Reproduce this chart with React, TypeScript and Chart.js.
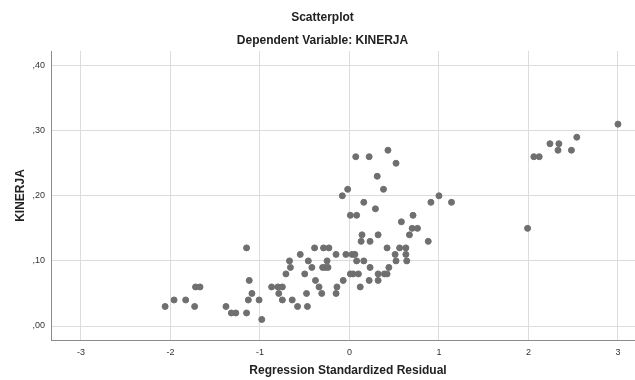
import React, { useEffect, useRef } from "react";
import { Chart, registerables } from "chart.js";

Chart.register(...registerables);

// Regression standardized residual (x) and KINERJA (y)
const residual = [
  -0.98,
  -1.32, -1.27, -1.15,
  -2.06, -1.73, -1.38, -0.58, -0.47,
  -1.96, -1.83, -1.13, -1.01, -0.75, -0.64,
  -1.09, -0.79, -0.48, -0.31, -0.15,
  -1.72, -1.67, -0.87, -0.80, -0.75, -0.34, -0.14, 0.12,
  -1.12, -0.38, -0.07, 0.22, 0.32,
  -0.71, -0.50, 0.01, 0.04, 0.10, 0.32, 0.39, 0.42,
  -0.66, -0.42, -0.30, -0.27, -0.24, 0.23, 0.44,
  -0.67, -0.46, -0.25, 0.08, 0.16, 0.52, 0.64,
  -0.55, -0.15, -0.04, 0.03, 0.06, 0.51, 0.63,
  -1.15, -0.39, -0.29, -0.23, 0.42, 0.56, 0.63,
  0.13, 0.23, 0.88,
  0.14, 0.32, 0.67,
  0.70, 0.76, 1.99,
  0.58,
  0.01, 0.08, 0.71,
  0.29,
  0.16, 0.91, 1.14,
  -0.08, 1.00,
  -0.02, 0.38,
  0.31,
  0.52,
  0.07, 0.22, 2.06, 2.12,
  0.43, 2.33, 2.48,
  2.24, 2.34,
  2.54,
  3.00,
];

const kinerja = [
  0.01,
  0.02, 0.02, 0.02,
  0.03, 0.03, 0.03, 0.03, 0.03,
  0.04, 0.04, 0.04, 0.04, 0.04, 0.04,
  0.05, 0.05, 0.05, 0.05, 0.05,
  0.06, 0.06, 0.06, 0.06, 0.06, 0.06, 0.06, 0.06,
  0.07, 0.07, 0.07, 0.07, 0.07,
  0.08, 0.08, 0.08, 0.08, 0.08, 0.08, 0.08, 0.08,
  0.09, 0.09, 0.09, 0.09, 0.09, 0.09, 0.09,
  0.10, 0.10, 0.10, 0.10, 0.10, 0.10, 0.10,
  0.11, 0.11, 0.11, 0.11, 0.11, 0.11, 0.11,
  0.12, 0.12, 0.12, 0.12, 0.12, 0.12, 0.12,
  0.13, 0.13, 0.13,
  0.14, 0.14, 0.14,
  0.15, 0.15, 0.15,
  0.16,
  0.17, 0.17, 0.17,
  0.18,
  0.19, 0.19, 0.19,
  0.20, 0.20,
  0.21, 0.21,
  0.23,
  0.25,
  0.26, 0.26, 0.26, 0.26,
  0.27, 0.27, 0.27,
  0.28, 0.28,
  0.29,
  0.31,
];

const xTickValues = [-3, -2, -1, 0, 1, 2, 3];
const xTickLabels = ["-3", "-2", "-1", "0", "1", "2", "3"];
const yTickValues = [0, 0.1, 0.2, 0.3, 0.4];
const yTickLabels = [",00", ",10", ",20", ",30", ",40"];

const FAMILY = "'Liberation Sans', Arial, sans-serif";

function lookup(values: number[], labels: string[], v: number): string {
  const i = values.findIndex((t) => Math.abs(t - v) < 1e-9);
  return i >= 0 ? labels[i] : "";
}

export default function App() {
  const ref = useRef<HTMLCanvasElement | null>(null);

  useEffect(() => {
    if (!ref.current) return;
    const points = residual.map((x, i) => ({ x, y: kinerja[i] }));
    const chart = new Chart(ref.current, {
      type: "scatter",
      data: {
        datasets: [
          {
            data: points,
            backgroundColor: "#6f6f6f",
            borderColor: "#6f6f6f",
            borderWidth: 1,
            pointRadius: 3,
          },
        ],
      },
      options: {
        animation: false,
        responsive: false,
        layout: { padding: { left: 0, right: 10, top: 0, bottom: 0 } },
        plugins: {
          legend: { display: false },
          tooltip: { enabled: false },
          title: {
            display: true,
            text: "Scatterplot",
            color: "#222",
            font: { family: FAMILY, size: 12, weight: "bold" },
            padding: { top: 10, bottom: 9.4 },
          },
          subtitle: {
            display: true,
            text: "Dependent Variable: KINERJA",
            color: "#222",
            font: { family: FAMILY, size: 12, weight: "bold" },
            padding: { top: 0, bottom: 2.8 },
          },
        },
        scales: {
          x: {
            type: "linear",
            min: -3.335,
            max: 3.302,
            afterBuildTicks: (s: any) => {
              s.ticks = xTickValues.map((v) => ({ value: v }));
            },
            afterFit: (s: any) => {
              s.height = 40;
            },
            grid: { color: "#dcdcdc", drawTicks: false },
            border: { color: "#8a8a8a" },
            ticks: {
              padding: 7,
              maxRotation: 0,
              autoSkip: false,
              color: "#333",
              font: { family: FAMILY, size: 9 },
              callback: (v: any) => lookup(xTickValues, xTickLabels, Number(v)),
            },
            title: {
              display: true,
              text: "Regression Standardized Residual",
              color: "#222",
              font: { family: FAMILY, size: 12, weight: "bold" },
              padding: { top: 0, bottom: 2 },
            },
          },
          y: {
            type: "linear",
            min: -0.0215,
            max: 0.4224,
            afterBuildTicks: (s: any) => {
              s.ticks = yTickValues.map((v) => ({ value: v }));
            },
            afterFit: (s: any) => {
              s.width = 51;
            },
            grid: { color: "#dcdcdc", drawTicks: false },
            border: { color: "#8a8a8a" },
            ticks: {
              padding: 6,
              autoSkip: false,
              color: "#333",
              font: { family: FAMILY, size: 9 },
              callback: (v: any) => lookup(yTickValues, yTickLabels, Number(v)),
            },
            title: {
              display: true,
              text: "KINERJA",
              color: "#222",
              font: { family: FAMILY, size: 12, weight: "bold" },
              padding: { top: 13, bottom: 0 },
            },
          },
        },
      },
    });
    return () => chart.destroy();
  }, []);

  return (
    <div
      style={{
        position: "fixed",
        left: 0,
        top: 0,
        width: 635,
        height: 380,
        overflow: "hidden",
        background: "#fff",
      }}
    >
      <canvas ref={ref} width={655} height={380} style={{ display: "block" }} />
    </div>
  );
}
